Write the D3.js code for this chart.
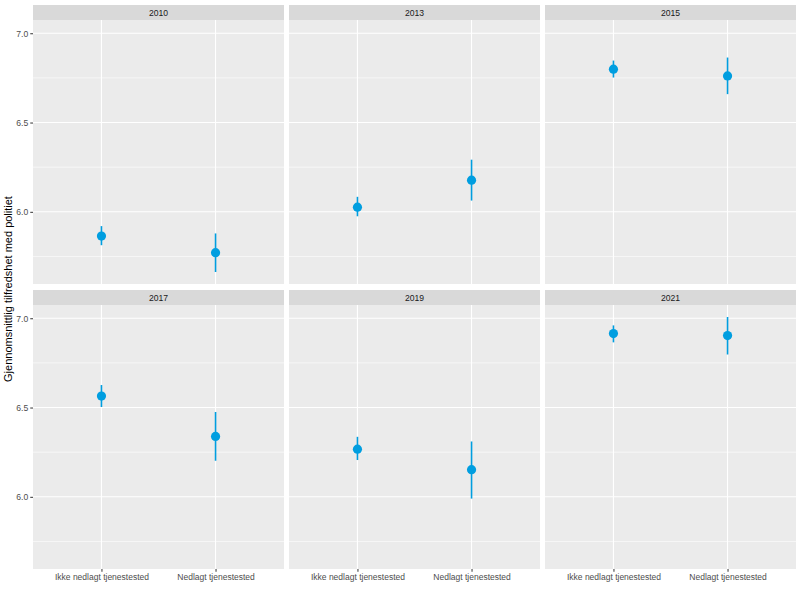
<!DOCTYPE html>
<html><head><meta charset="utf-8">
<script src="https://cdn.jsdelivr.net/npm/d3@7/dist/d3.min.js"></script>
<style>body{margin:0;background:#fff}</style>
</head><body>
<svg id="c" width="800" height="600"></svg>
<script>
const years = ["2010","2013","2015","2017","2019","2021"];
const categories = ["Ikke nedlagt tjenestested","Nedlagt tjenestested"];
const means  = [[5.864,5.771],[6.026,6.177],[6.799,6.761],[6.564,6.338],[6.267,6.152],[6.914,6.903]];
const lowers = [[5.813,5.663],[5.975,6.063],[6.752,6.659],[6.503,6.202],[6.206,5.990],[6.865,6.797]];
const uppers = [[5.920,5.879],[6.084,6.292],[6.847,6.864],[6.626,6.475],[6.336,6.310],[6.960,7.007]];
const majorTicks = [6.0,6.5,7.0];
const minorTicks = [5.75,6.25,6.75];
const yTitle = "Gjennomsnittlig tilfredshet med politiet";

const svg = d3.select("#c");
const font = "'Liberation Sans', Arial, sans-serif";
const left = 33, right = 796, gap = 5, pw = (right-left-2*gap)/3;
const rowsTop = [5, 290], stripH = 15, ph = 264;
const col = "#009EE0";

const allVals = lowers.flat().concat(uppers.flat());
const mn = d3.min(allVals), mx = d3.max(allVals), ex = (mx-mn)*0.05;
const y = d3.scaleLinear().domain([mn-ex, mx+ex]).range([ph,0]);
// ggplot discrete: positions at 1,2 with domain [0.4,2.6]
const xc = d3.scaleLinear().domain([0.4,2.6]).range([0,pw]);
const xpos = c => xc(categories.indexOf(c)+1);

years.forEach((yr,i)=>{
  const r = Math.floor(i/3), c = i%3;
  const px = left + c*(pw+gap), sy = rowsTop[r], py = sy+stripH;
  const g = svg.append("g").attr("transform",`translate(${px},${py})`);
  svg.append("rect").attr("x",px).attr("y",sy).attr("width",pw).attr("height",stripH).attr("fill","#D9D9D9");
  svg.append("text").attr("x",px+pw/2).attr("y",sy+stripH/2).attr("dy","0.35em")
    .attr("text-anchor","middle").attr("font-family",font).attr("font-size",8.6).attr("fill","#1A1A1A").text(yr);
  g.append("rect").attr("width",pw).attr("height",ph).attr("fill","#EBEBEB");
  minorTicks.forEach(t=>g.append("line").attr("x1",0).attr("x2",pw).attr("y1",y(t)).attr("y2",y(t)).attr("stroke","#fff").attr("stroke-width",0.6));
  majorTicks.forEach(t=>g.append("line").attr("x1",0).attr("x2",pw).attr("y1",y(t)).attr("y2",y(t)).attr("stroke","#fff").attr("stroke-width",1.1));
  categories.forEach(k=>g.append("line").attr("x1",xpos(k)).attr("x2",xpos(k)).attr("y1",0).attr("y2",ph).attr("stroke","#fff").attr("stroke-width",1.1));
  categories.forEach((k,j)=>{
    g.append("line").attr("x1",xpos(k)).attr("x2",xpos(k)).attr("y1",y(lowers[i][j])).attr("y2",y(uppers[i][j]))
      .attr("stroke",col).attr("stroke-width",1.6);
    g.append("circle").attr("cx",xpos(k)).attr("cy",y(means[i][j])).attr("r",4.6).attr("fill",col);
  });
  if(c===0){
    const ax = g.append("g").call(d3.axisLeft(y).tickValues(majorTicks).tickFormat(d3.format(".1f")).tickSize(2.75).tickPadding(2));
    ax.select(".domain").remove();
    ax.selectAll("line").attr("stroke","#333");
    ax.selectAll("text").attr("font-family",font).attr("font-size",8.6).attr("fill","#4D4D4D");
  }
  if(r===1){
    const ax = g.append("g").attr("transform",`translate(0,${ph})`)
      .call(d3.axisBottom(xc).tickValues([1,2]).tickFormat(d=>categories[d-1]).tickSize(2.75).tickPadding(2.5));
    ax.select(".domain").remove();
    ax.selectAll("line").attr("stroke","#333");
    ax.selectAll("text").attr("font-family",font).attr("font-size",8.5).attr("fill","#4D4D4D");
  }
});
svg.append("text").attr("transform",`translate(11.5,${(rowsTop[0]+rowsTop[1]+stripH+ph)/2+2}) rotate(-90)`)
  .attr("text-anchor","middle").attr("font-family",font).attr("font-size",11).attr("fill","#000").text(yTitle);
</script>
</body></html>
